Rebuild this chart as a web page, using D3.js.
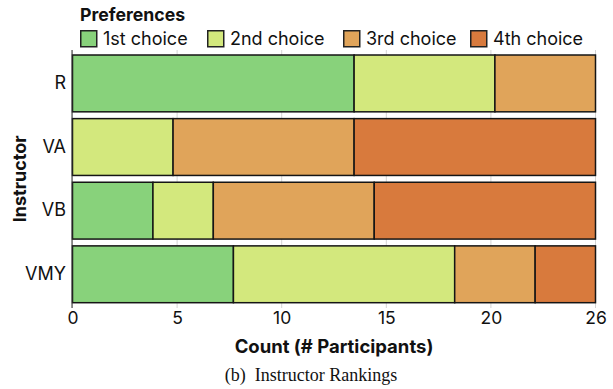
<!DOCTYPE html>
<html>
<head>
<meta charset="utf-8">
<script src="https://cdn.jsdelivr.net/npm/d3@7"></script>
<style>
  html, body { margin: 0; padding: 0; background: #fff; }
  svg { display: block; font-family: Inter, "Noto Sans", sans-serif; }
</style>
</head>
<body>
<svg id="chart" width="613" height="389"></svg>
<script>
// Instructor ranking counts (26 participants each)
const instructors = ["R", "VA", "VB", "VMY"];
const choices = ["1st choice", "2nd choice", "3rd choice", "4th choice"];
const first  = [14, 0, 4, 8];
const second = [7, 5, 3, 11];
const third  = [5, 9, 8, 4];
const fourth = [0, 12, 11, 3];
const colors = ["#88d27b", "#d3e87d", "#e0a45a", "#d87a3d"];
const totalParticipants = 26;
const tickFractions = [0, 0.2, 0.4, 0.6, 0.8, 1];

const series = [first, second, third, fourth];
const rows = instructors.map((name, i) => {
  const r = { name };
  choices.forEach((c, k) => r[c] = series[k][i]);
  return r;
});

const svg = d3.select("#chart");
const margin = { left: 72.5, right: 595.5, top: 51.6, bottom: 306.1 };

const x = d3.scaleLinear().domain([0, totalParticipants]).range([margin.left, margin.right]);
const y = d3.scaleBand().domain(instructors).range([margin.top, margin.bottom])
  .paddingInner(0.107).paddingOuter(0.0535);
const color = d3.scaleOrdinal().domain(choices).range(colors);

// gridlines
const tickVals = tickFractions.map(f => f * totalParticipants);
svg.append("g")
  .selectAll("line")
  .data(tickVals)
  .join("line")
  .attr("x1", d => x(d)).attr("x2", d => x(d))
  .attr("y1", 50).attr("y2", 308)
  .attr("stroke", "#d4d4d4").attr("stroke-width", 1);

// stacked bars
const stack = d3.stack().keys(choices)(rows);
svg.append("g")
  .selectAll("g")
  .data(stack)
  .join("g")
  .attr("fill", d => color(d.key))
  .selectAll("rect")
  .data(d => d.filter(s => s[1] - s[0] > 0))
  .join("rect")
  .attr("x", d => x(d[0]))
  .attr("width", d => x(d[1]) - x(d[0]))
  .attr("y", d => y(d.data.name))
  .attr("height", y.bandwidth())
  .attr("stroke", "#151515")
  .attr("stroke-width", 1.5);

// left axis line
svg.append("line")
  .attr("x1", margin.left - 0.5).attr("x2", margin.left - 0.5)
  .attr("y1", 50).attr("y2", 308)
  .attr("stroke", "#333").attr("stroke-width", 1);

// x axis
const xAxis = d3.axisBottom(x)
  .tickValues(tickVals)
  .tickSize(0)
  .tickPadding(0)
  .tickFormat(d => Math.floor(d + 1e-9));
svg.append("g")
  .attr("transform", "translate(0,312)")
  .call(xAxis)
  .call(g => g.select(".domain").remove())
  .selectAll("text")
  .attr("font-family", "Inter, sans-serif")
  .attr("font-size", 17.5)
  .attr("fill", "#111")
  .attr("dy", "0.71em");

// y axis
const yAxis = d3.axisLeft(y).tickSize(0).tickPadding(0);
svg.append("g")
  .attr("transform", "translate(66,0)")
  .call(yAxis)
  .call(g => g.select(".domain").remove())
  .selectAll("text")
  .attr("font-family", "Inter, sans-serif")
  .attr("font-size", 18)
  .attr("fill", "#111");

// axis titles
svg.append("text")
  .attr("x", (margin.left + margin.right) / 2)
  .attr("y", 353)
  .attr("text-anchor", "middle")
  .attr("font-size", 18.5)
  .attr("font-weight", 700)
  .attr("fill", "#111")
  .text("Count (# Participants)");

svg.append("text")
  .attr("transform", `translate(26,${(margin.top + margin.bottom) / 2}) rotate(-90)`)
  .attr("text-anchor", "middle")
  .attr("font-size", 18)
  .attr("font-weight", 700)
  .attr("fill", "#111")
  .text("Instructor");

// legend
svg.append("text")
  .attr("x", 80).attr("y", 21)
  .attr("font-size", 17.7)
  .attr("font-weight", 700)
  .attr("fill", "#111")
  .text("Preferences");

const legendX = [80, 207, 343, 470];
const legend = svg.append("g")
  .selectAll("g")
  .data(choices)
  .join("g")
  .attr("transform", (d, i) => `translate(${legendX[i]},30)`);
legend.append("rect")
  .attr("x", 0.75).attr("y", 0.75)
  .attr("width", 16).attr("height", 16)
  .attr("fill", d => color(d))
  .attr("stroke", "#222").attr("stroke-width", 1.5);
legend.append("text")
  .attr("x", 23).attr("y", 15)
  .attr("font-size", 18)
  .attr("fill", "#111")
  .text(d => d);

// caption
svg.append("text")
  .attr("x", 311).attr("y", 381)
  .attr("text-anchor", "middle")
  .attr("font-family", "'Liberation Serif', 'Times New Roman', serif")
  .attr("font-size", 18)
  .attr("fill", "#111")
  .attr("xml:space", "preserve")
  .text("(b)  Instructor Rankings");
</script>
</body>
</html>
